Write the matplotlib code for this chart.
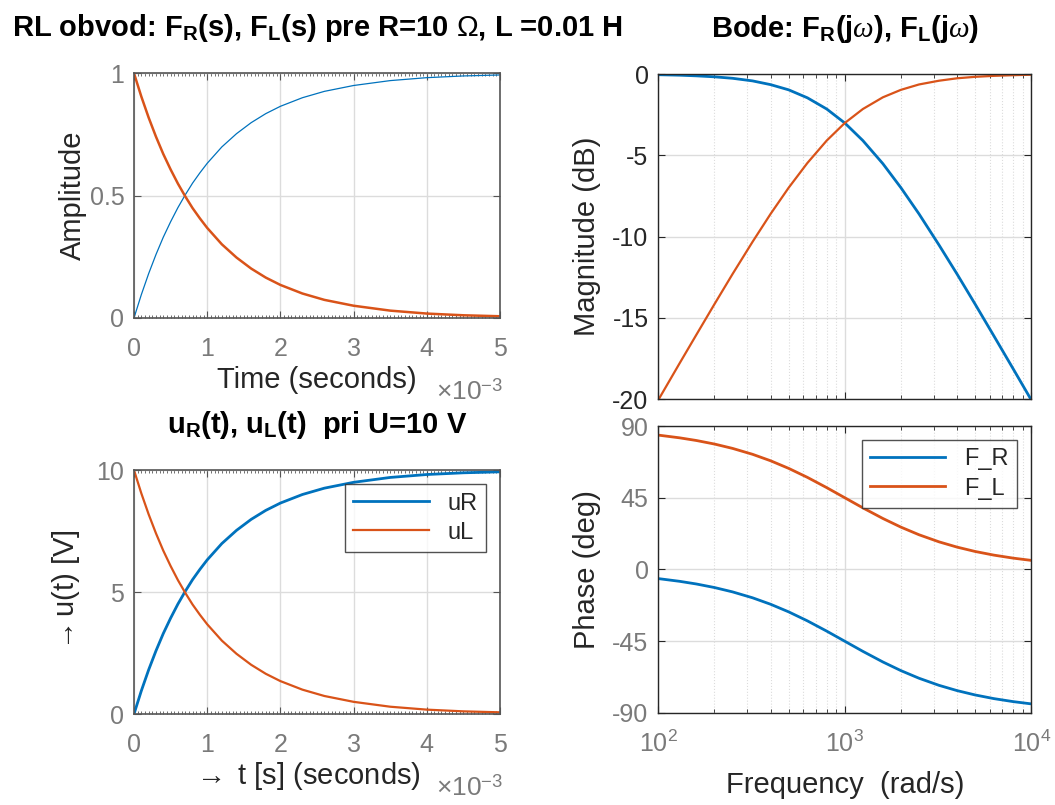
import matplotlib
matplotlib.use('Agg')
from matplotlib import pyplot as plt
from matplotlib.ticker import MultipleLocator, LogLocator, NullFormatter

plt.rcParams['font.family'] = ['Liberation Sans', 'DejaVu Sans']
plt.rcParams['mathtext.fontset'] = 'custom'
plt.rcParams['mathtext.rm'] = 'Liberation Sans'
plt.rcParams['mathtext.bf'] = 'Liberation Sans:bold'
plt.rcParams['mathtext.it'] = 'Liberation Serif:italic'
plt.rcParams['axes.unicode_minus'] = False

# casova os [ms]
t_ms = [0, 0.1, 0.2, 0.3, 0.4, 0.5, 0.6, 0.7, 0.8, 0.9, 1.0, 1.2, 1.4, 1.6, 1.8,
        2.0, 2.3, 2.6, 3.0, 3.5, 4.0, 4.5, 5.0]
# prechodove charakteristiky F_R, F_L
step_R = [0, 0.095, 0.181, 0.259, 0.330, 0.393, 0.451, 0.503, 0.551, 0.593, 0.632,
          0.699, 0.753, 0.798, 0.835, 0.865, 0.900, 0.926, 0.950, 0.970, 0.982, 0.989, 0.993]
step_L = [1, 0.905, 0.819, 0.741, 0.670, 0.607, 0.549, 0.497, 0.449, 0.407, 0.368,
          0.301, 0.247, 0.202, 0.165, 0.135, 0.100, 0.074, 0.050, 0.030, 0.018, 0.011, 0.007]
# napatia pri U=10 V
uR = [0, 0.95, 1.81, 2.59, 3.30, 3.93, 4.51, 5.03, 5.51, 5.93, 6.32,
      6.99, 7.53, 7.98, 8.35, 8.65, 9.00, 9.26, 9.50, 9.70, 9.82, 9.89, 9.93]
uL = [10, 9.05, 8.19, 7.41, 6.70, 6.07, 5.49, 4.97, 4.49, 4.07, 3.68,
      3.01, 2.47, 2.02, 1.65, 1.35, 1.00, 0.74, 0.50, 0.30, 0.18, 0.11, 0.07]

# Bode
w = [100, 130, 160, 200, 250, 320, 400, 500, 630, 800, 1000, 1250, 1600, 2000,
     2500, 3200, 4000, 5000, 6300, 8000, 10000]
mag_R = [-0.04, -0.07, -0.11, -0.17, -0.26, -0.42, -0.65, -0.97, -1.46, -2.15, -3.01,
         -4.09, -5.51, -6.99, -8.60, -10.51, -12.30, -14.15, -16.10, -18.13, -20.04]
mag_L = [-20.04, -17.79, -16.03, -14.15, -12.30, -10.32, -8.60, -6.99, -5.47, -4.09, -3.01,
         -2.15, -1.43, -0.97, -0.64, -0.41, -0.26, -0.17, -0.11, -0.07, -0.04]
ph_R = [-5.71, -7.41, -9.09, -11.31, -14.04, -17.74, -21.80, -26.57, -32.21, -38.66, -45.0,
        -51.34, -57.99, -63.43, -68.20, -72.65, -75.96, -78.69, -80.98, -82.87, -84.29]
ph_L = [84.29, 82.59, 80.91, 78.69, 75.96, 72.26, 68.20, 63.43, 57.79, 51.34, 45.0,
        38.66, 32.01, 26.57, 21.80, 17.35, 14.04, 11.31, 9.02, 7.13, 5.71]

blue = '#0072BD'
orange = '#D95319'
tick_gray = '#7a7a7a'
dark = '#262626'
grid_c = '#dcdcdc'

fig = plt.figure(figsize=(10.55, 8.05), dpi=100)

ax1 = fig.add_axes([0.127, 0.605, 0.347, 0.304])
ax2 = fig.add_axes([0.127, 0.113, 0.347, 0.303])
ax3 = fig.add_axes([0.624, 0.504, 0.3535, 0.404])
ax4 = fig.add_axes([0.624, 0.1143, 0.3535, 0.3565])


def time_axes(ax):
    ax.set_xlim(0, 5)
    ax.xaxis.set_major_locator(MultipleLocator(1))
    ax.xaxis.set_minor_locator(MultipleLocator(0.05))
    ax.tick_params(which='both', direction='in', top=True, right=True,
                   colors='#555555', labelcolor=tick_gray, labelsize=18)
    ax.tick_params(which='major', length=5, pad=7)
    ax.tick_params(axis='x', which='major', pad=14)
    ax.tick_params(which='minor', length=2.5)
    ax.tick_params(axis='y', which='minor', left=False, right=False)
    ax.grid(True, which='major', color=grid_c, lw=1)
    for s in ax.spines.values():
        s.set_color('#555555')
        s.set_linewidth(1.2)
    ax.text(1.01, -0.3, r'$\times10^{-3}$', transform=ax.transAxes, ha='right',
            va='center', fontsize=19, color=tick_gray)


ax1.plot(t_ms, step_R, color=blue, lw=0.9)
ax1.plot(t_ms, step_L, color=orange, lw=1.8)
time_axes(ax1)
ax1.set_ylim(0, 1)
ax1.set_yticks([0, 0.5, 1])
ax1.set_yticklabels(['0', '0.5', '1'])
ax1.set_ylabel('Amplitude', fontsize=21, color=dark, labelpad=2)
ax1.set_xlabel('Time (seconds)', fontsize=21, color=dark, labelpad=3)
ax1.set_title(r'RL obvod: F$_\mathbf{R}$(s), F$_\mathbf{L}$(s) pre R=10 $\Omega$, L =0.01 H',
              fontsize=21, fontweight='bold', pad=27)

ax2.plot(t_ms, uR, color=blue, lw=2.0, label='uR')
ax2.plot(t_ms, uL, color=orange, lw=1.6, label='uL')
time_axes(ax2)
ax2.set_ylim(0, 10)
ax2.set_yticks([0, 5, 10])
ax2.set_ylabel(r'$\rightarrow$u(t) [V]', fontsize=21, color=dark, labelpad=10)
ax2.set_xlabel(r'$\rightarrow$ t [s] (seconds)', fontsize=21, color=dark, labelpad=3)
ax2.xaxis.set_label_coords(0.47, -0.19)
ax2.set_title(r'u$_\mathbf{R}$(t), u$_\mathbf{L}$(t)  pri U=10 V',
              fontsize=21, fontweight='bold', pad=27)
leg = ax2.legend(loc='upper right', fontsize=17, handlelength=3.2, frameon=True,
                 fancybox=False, edgecolor=dark, borderaxespad=0.6, labelcolor=dark,
                 borderpad=0.35, labelspacing=0.3)
leg.get_frame().set_linewidth(1.0)


def bode_axes(ax):
    ax.set_xscale('log')
    ax.set_xlim(100, 10000)
    ax.xaxis.set_major_locator(LogLocator(base=10, numticks=10))
    ax.xaxis.set_minor_locator(LogLocator(base=10, subs=range(2, 10), numticks=10))
    ax.xaxis.set_minor_formatter(NullFormatter())
    ax.tick_params(which='both', direction='in', top=True, right=True, colors=dark,
                   labelsize=18)
    ax.tick_params(which='major', length=5, pad=7)
    ax.tick_params(axis='x', which='major', pad=13)
    ax.tick_params(which='minor', length=3)
    ax.grid(True, which='major', color=grid_c, lw=1)
    ax.grid(True, which='minor', axis='x', color=grid_c, lw=0.8, ls=':')
    for s in ax.spines.values():
        s.set_color(dark)
        s.set_linewidth(1.0)


ax3.plot(w, mag_R, color=blue, lw=2.0)
ax3.plot(w, mag_L, color=orange, lw=1.6)
bode_axes(ax3)
ax3.set_ylim(-20, 0)
ax3.set_yticks([-20, -15, -10, -5, 0])
ax3.tick_params(axis='x', labelbottom=False)
ax3.set_ylabel('Magnitude (dB)', fontsize=21, color=dark, labelpad=8)
ax3.set_title(r'Bode: F$_\mathbf{R}$(j$\omega$), F$_\mathbf{L}$(j$\omega$)',
              fontsize=21, fontweight='bold', pad=27)

ax4.plot(w, ph_R, color=blue, lw=2.0, label='F_R')
ax4.plot(w, ph_L, color=orange, lw=2.0, label='F_L')
bode_axes(ax4)
ax4.set_ylim(-90, 90)
ax4.set_yticks([-90, -45, 0, 45, 90])
ax4.tick_params(axis='both', labelcolor=tick_gray)
ax4.set_ylabel('Phase (deg)', fontsize=21, color=dark, labelpad=8)
ax4.set_xlabel('Frequency  (rad/s)', fontsize=21, color=dark, labelpad=10)
leg = ax4.legend(loc='upper right', fontsize=17, handlelength=3.2, frameon=True,
                 fancybox=False, edgecolor=dark, borderaxespad=0.6, labelcolor=dark,
                 borderpad=0.35, labelspacing=0.3)
leg.get_frame().set_linewidth(1.0)

fig.savefig('out.png', dpi=100, facecolor='white')
